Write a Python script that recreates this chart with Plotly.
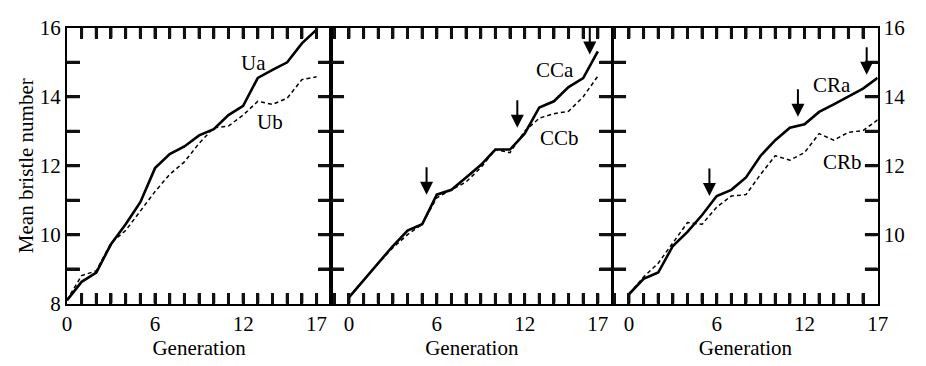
import plotly.graph_objects as go

# ---- data ----
generations = list(range(18))

Ua = [8.09, 8.63, 8.90, 9.72, 10.30, 10.94, 11.93, 12.34, 12.56, 12.88, 13.06, 13.47, 13.74, 14.55, 14.78, 15.00, 15.55, 15.95]
Ub = [8.10, 8.81, 8.95, 9.76, 10.12, 10.67, 11.25, 11.75, 12.11, 12.65, 13.10, 13.15, 13.47, 13.87, 13.78, 13.96, 14.50, 14.58]

CCa = [8.18, 8.68, 9.17, 9.67, 10.12, 10.30, 11.16, 11.30, 11.66, 12.02, 12.47, 12.47, 12.93, 13.69, 13.87, 14.28, 14.54, 15.32]
CCb = [8.18, 8.68, 9.17, 9.62, 10.00, 10.30, 11.07, 11.30, 11.53, 11.94, 12.47, 12.38, 13.00, 13.38, 13.51, 13.58, 14.00, 14.60]

CRa = [8.27, 8.72, 8.90, 9.67, 10.08, 10.57, 11.12, 11.30, 11.66, 12.29, 12.74, 13.10, 13.20, 13.56, 13.78, 14.01, 14.24, 14.55]
CRb = [8.27, 8.77, 9.17, 9.76, 10.35, 10.30, 10.80, 11.12, 11.16, 11.75, 12.29, 12.16, 12.38, 12.93, 12.74, 12.97, 13.02, 13.33]

# arrows (generation, tip value)
CC_arrow_gen = [5.3, 11.5, 16.45]
CC_arrow_tip = [11.16, 13.10, 15.23]
CR_arrow_gen = [5.5, 11.55, 16.25]
CR_arrow_tip = [11.12, 13.42, 14.64]

x_tick_labels = {0: "0", 6: "6", 12: "12", 17: "17"}
y_left_labels = {8: "8", 10: "10", 12: "12", 14: "14", 16: "16"}
y_right_labels = {10: "10", 12: "12", 14: "14", 16: "16"}

labels = [  # (panel, text, x, y)
    (1, "Ua", 12.7, 14.97),
    (1, "Ub", 13.85, 13.26),
    (2, "CCa", 14.1, 14.78),
    (2, "CCb", 14.4, 12.80),
    (3, "CRa", 13.9, 14.35),
    (3, "CRb", 14.6, 12.10),
]

# ---- layout geometry ----
W, H = 926, 366
FONT = "Liberation Serif"
panel_px = [(63, 332), (332, 618), (619, 888)]
x_ranges = [(0, 18.0), (-1.21, 17.99), (-1.07, 17.0)]
y_range = (8, 16)
y_px = (17, 312)
y_dom = [1 - y_px[1] / H, 1 - y_px[0] / H]
X_TICKLEN, Y_TICKLEN = 11, 13   # pixels

fig = go.Figure()
series = [(Ua, Ub), (CCa, CCb), (CRa, CRb)]
layout = dict(width=W, height=H, margin=dict(l=0, r=0, t=0, b=0),
              paper_bgcolor="white", plot_bgcolor="rgba(0,0,0,0)",
              font=dict(family=FONT, size=21, color="black"))

for i, (a, b) in enumerate(series):
    xa = "x" if i == 0 else f"x{i+1}"
    ya = "y" if i == 0 else f"y{i+1}"
    lo, hi = x_ranges[i]
    yv = list(range(y_range[0], y_range[1] + 1))
    tv = [v for v in range(-1, int(hi) + 1) if lo - 0.3 <= v <= hi]

    fig.add_trace(go.Scatter(x=generations, y=b, mode="lines", xaxis=xa, yaxis=ya,
                             line=dict(color="black", width=1.5, dash="4px,3px"),
                             showlegend=False, hoverinfo="skip"))
    fig.add_trace(go.Scatter(x=generations, y=a, mode="lines", xaxis=xa, yaxis=ya,
                             line=dict(color="black", width=2.6),
                             showlegend=False, hoverinfo="skip"))

    # tick marks (drawn inward from all four borders) as line traces
    xpu = (panel_px[i][1] - panel_px[i][0]) / (hi - lo)          # px per x unit
    ypu = (y_px[1] - y_px[0]) / (y_range[1] - y_range[0])        # px per y unit
    dy = X_TICKLEN / ypu
    dx = Y_TICKLEN / xpu
    tx, ty = [], []
    for v in tv:
        if lo < v < hi:
            tx += [v, v, None, v, v, None]
            ty += [y_range[0], y_range[0] + dy, None, y_range[1], y_range[1] - dy, None]
    fig.add_trace(go.Scatter(x=tx, y=ty, mode="lines", xaxis=xa, yaxis=ya,
                             line=dict(color="#111111", width=3),
                             showlegend=False, hoverinfo="skip"))
    tx, ty = [], []
    for v in yv:
        if y_range[0] < v < y_range[1]:
            tx += [lo, lo + dx, None, hi, hi - dx, None]
            ty += [v, v, None, v, v, None]
    fig.add_trace(go.Scatter(x=tx, y=ty, mode="lines", xaxis=xa, yaxis=ya,
                             line=dict(color="#111111", width=3),
                             showlegend=False, hoverinfo="skip"))

    tt = [x_tick_labels.get(v, "") for v in tv]
    xkey = "xaxis" if i == 0 else f"xaxis{i+1}"
    ykey = "yaxis" if i == 0 else f"yaxis{i+1}"
    layout[xkey] = dict(domain=[panel_px[i][0] / W, panel_px[i][1] / W], range=[lo, hi],
                        anchor=ya,
                        showline=True, linecolor="black", linewidth=2, mirror="ticks",
                        ticks="inside", ticklen=X_TICKLEN, tickwidth=3, tickcolor="#111111",
                        tickmode="array", tickvals=tv, ticktext=tt,
                        showgrid=False, zeroline=False,
                        tickfont=dict(size=21),
                        title=dict(text="Generation", font=dict(size=21), standoff=4))
    if i == 0:
        yt = [y_left_labels.get(v, "") for v in yv]
        side = "left"
    elif i == 2:
        yt = [y_right_labels.get(v, "") for v in yv]
        side = "right"
    else:
        yt = ["" for v in yv]
        side = "left"
    ydict = dict(domain=y_dom, range=list(y_range), anchor=xa,
                 side=side, showline=True, linecolor="black", linewidth=2, mirror="ticks",
                 ticks="inside", ticklen=Y_TICKLEN, tickwidth=3, tickcolor="#111111",
                 tickmode="array", tickvals=yv, ticktext=yt,
                 showgrid=False, zeroline=False,
                 tickfont=dict(size=21),
                 showticklabels=(i != 1))
    if i == 0:
        ydict["title"] = dict(text="Mean bristle number", font=dict(size=21), standoff=0)
    layout[ykey] = ydict

annotations = []
for p, txt, x, y in labels:
    annotations.append(dict(text=txt, x=x, y=y, xref="x" if p == 1 else f"x{p}",
                            yref="y" if p == 1 else f"y{p}", showarrow=False,
                            font=dict(size=21, family=FONT)))
for p, gens, tips in [(2, CC_arrow_gen, CC_arrow_tip), (3, CR_arrow_gen, CR_arrow_tip)]:
    for g, t in zip(gens, tips):
        annotations.append(dict(x=g, y=t, xref=f"x{p}", yref=f"y{p}", text="",
                                showarrow=True, arrowhead=2, arrowsize=1.3, arrowwidth=2,
                                arrowcolor="black", ax=0, ay=-29, standoff=0))
layout["annotations"] = annotations

fig.update_layout(**layout)
fig.write_html("out.html")
